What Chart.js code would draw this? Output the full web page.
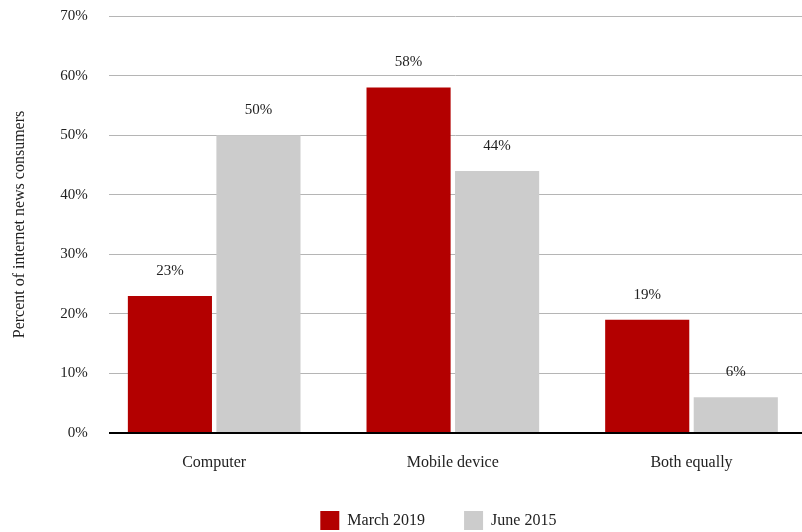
<!DOCTYPE html>
<html>
<head>
<meta charset="utf-8">
<script src="https://cdn.jsdelivr.net/npm/chart.js@4"></script>
<style>
  html, body { margin: 0; padding: 0; background: #fff; }
  #wrap { width: 802px; height: 532px; }
</style>
</head>
<body>
<div id="wrap"><canvas id="canvas"></canvas></div>
<script>
var categories = ["Computer", "Mobile device", "Both equally"];
var march2019 = [23, 58, 19];
var june2015 = [50, 44, 6];
var yTicks = [0, 10, 20, 30, 40, 50, 60, 70];

var red = "#b30000";
var grey = "#cccccc";
var serif = "'Liberation Serif', 'DejaVu Serif', serif";

function points(values) {
  return values.map(function(v, i) { return { x: i, y: v }; });
}

// value labels above each bar
var barLabels = {
  id: "barLabels",
  afterDatasetsDraw: function(chart) {
    var ctx = chart.ctx;
    ctx.save();
    ctx.font = "15px " + serif;
    ctx.fillStyle = "#222";
    ctx.textAlign = "center";
    ctx.textBaseline = "alphabetic";
    chart.data.datasets.forEach(function(ds, di) {
      chart.getDatasetMeta(di).data.forEach(function(bar, i) {
        ctx.fillText(ds.data[i].y + "%", bar.x, bar.y - 21);
      });
    });
    ctx.restore();
  }
};

// legend keeps wide item spacing but a fixed, shorter box, nudged left
var legendBox = {
  id: "legendBox",
  afterInit: function(chart) {
    var legend = chart.legend;
    var fit = legend.fit;
    legend.fit = function() {
      fit.call(this);
      this.height = 60;
    };
  },
  afterLayout: function(chart) {
    chart.legend.left -= 17;
    chart.legend.right -= 17;
  }
};

new Chart(document.getElementById("canvas").getContext("2d"), {
  type: "bar",
  data: {
    datasets: [{
      label: "March 2019",
      data: points(march2019),
      backgroundColor: red,
      borderWidth: 0,
      categoryPercentage: 0.742,
      barPercentage: 0.95
    }, {
      label: "June 2015",
      data: points(june2015),
      backgroundColor: grey,
      borderWidth: 0,
      categoryPercentage: 0.742,
      barPercentage: 0.95
    }]
  },
  options: {
    responsive: true,
    maintainAspectRatio: false,
    animation: false,
    layout: { padding: { top: 16, right: 0, left: 10, bottom: 0 } },
    plugins: {
      legend: {
        position: "bottom",
        fullSize: false,
        labels: {
          boxWidth: 19,
          boxHeight: 19,
          padding: 39,
          color: "#222",
          font: { family: serif, size: 16 }
        }
      },
      tooltip: { enabled: false }
    },
    scales: {
      x: {
        type: "linear",
        offset: false,
        min: -0.442,
        max: 2.463,
        afterBuildTicks: function(axis) {
          axis.ticks = categories.map(function(c, i) { return { value: i }; });
        },
        afterFit: function(axis) { axis.height = 39; },
        ticks: {
          padding: 12,
          color: "#222",
          font: { family: serif, size: 16 },
          callback: function(v) { return categories[v] || ""; }
        },
        grid: { display: false },
        border: { display: false }
      },
      y: {
        min: 0,
        max: 70,
        afterBuildTicks: function(axis) {
          axis.ticks = yTicks.map(function(v) { return { value: v }; });
        },
        afterFit: function(axis) { axis.paddingTop = 0; },
        ticks: {
          padding: 21,
          color: "#222",
          font: { family: serif, size: 15 },
          callback: function(v) { return v + "%"; }
        },
        grid: {
          drawTicks: false,
          color: function(c) { return c.tick && c.tick.value === 0 ? "#000" : "#b5b5b5"; },
          lineWidth: function(c) { return c.tick && c.tick.value === 0 ? 2 : 1; }
        },
        border: { display: false },
        title: {
          display: true,
          text: "Percent of internet news consumers",
          color: "#222",
          padding: { top: 0, bottom: 10 },
          font: { family: serif, size: 16 }
        }
      }
    }
  },
  plugins: [barLabels, legendBox]
});
</script>
</body>
</html>
